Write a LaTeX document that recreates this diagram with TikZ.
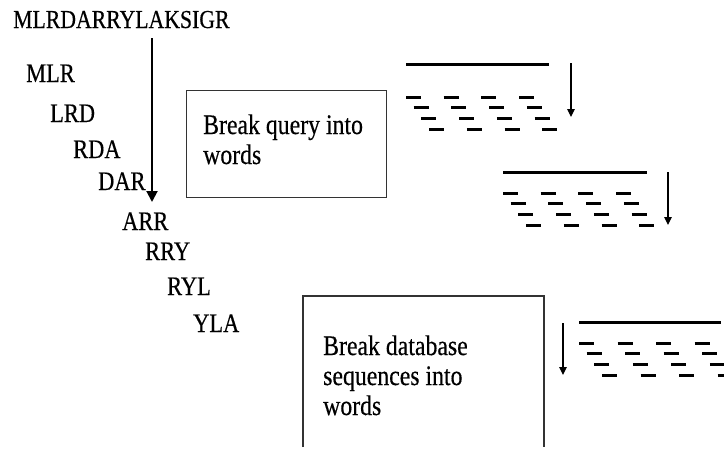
\documentclass[tikz,border=0pt]{standalone}
\usepackage{fontspec}
\setmainfont{Liberation Serif}[FakeStretch=0.84, FakeBold=0.4]
\usetikzlibrary{arrows.meta}

\tikzset{
  titletext/.style={font=\fontsize{25.9}{30}\selectfont, inner sep=0pt, anchor=base west},
  seqtext/.style={font=\fontsize{26.7}{30}\selectfont, inner sep=0pt, anchor=base west},
  % multi-line labels are placed by the baseline of their last line
  boxtext/.style={font=\fontsize{28.3}{30}\selectfont, inner sep=0pt, anchor=base west, align=left},
  framebox/.style={draw=black!80, line width=1.4pt},
  bigarrow/.style={line width=2pt, -{Triangle[length=11pt,width=11pt]}},
  smallarrow/.style={line width=1.1pt, -{Triangle[length=8pt,width=7.5pt]}},
  wordline/.style={line width=3pt},
  worddash/.style={line width=3pt},
  % a sequence line with four staggered rows of word dashes below it
  pics/wordset/.style n args={3}{code={
    \draw[wordline] (0,0) -- (#3,0);
    \foreach \r in {0,...,3}
      \foreach \c in {0,...,3}
        \draw[worddash] ({\r*7.7+\c*#2},{#1+\r*10.8}) -- ++(15,0);
  }},
}

\begin{document}
\begin{tikzpicture}[x=1pt,y=-1pt]
  \clip (0,0) rectangle (724,453);

  % query sequence and its overlapping three-letter words
  \node[titletext] (query) at (13,28) {MLRDARRYLAKSIGR};
  \node[seqtext] (w1) at (26,82)  {MLR};
  \node[seqtext] (w2) at (50,122) {LRD};
  \node[seqtext] (w3) at (73,158) {RDA};
  \node[seqtext] (w4) at (98,190) {DAR};
  \node[seqtext] (w5) at (122,230) {ARR};
  \node[seqtext] (w6) at (145,260) {RRY};
  \node[seqtext] (w7) at (167,295) {RYL};
  \node[seqtext] (w8) at (193,332) {YLA};

  \coordinate (qtop) at (152,38);
  \coordinate (qbot) at (152,202);
  \draw[bigarrow] (qtop) -- (qbot);

  % step boxes
  \node[framebox, minimum width=200pt, minimum height=107pt, anchor=north west, inner sep=0pt] (qbox) at (186,90) {};
  \node[boxtext] (qlabel) at (203,164) {Break query into\\words};

  \draw[framebox] (303,447) coordinate (dbl) -- (303,296) -- (544,296) -- (544,447) coordinate (dbr);
  \node[boxtext] (dblabel) at (323,415) {Break database\\sequences into\\words};

  % database sequences split into words
  \pic at (406,64)  {wordset={33}{37.7}{143}};
  \pic at (503,172) {wordset={21}{37.7}{144}};
  \pic at (579,322) {wordset={21}{38.5}{142}};

  \coordinate (a1s) at (571,63);  \coordinate (a1e) at (571,117);
  \coordinate (a2s) at (668,172); \coordinate (a2e) at (668,225);
  \coordinate (a3s) at (563,323); \coordinate (a3e) at (563,375);
  \draw[smallarrow] (a1s) -- (a1e);
  \draw[smallarrow] (a2s) -- (a2e);
  \draw[smallarrow] (a3s) -- (a3e);
\end{tikzpicture}
\end{document}
